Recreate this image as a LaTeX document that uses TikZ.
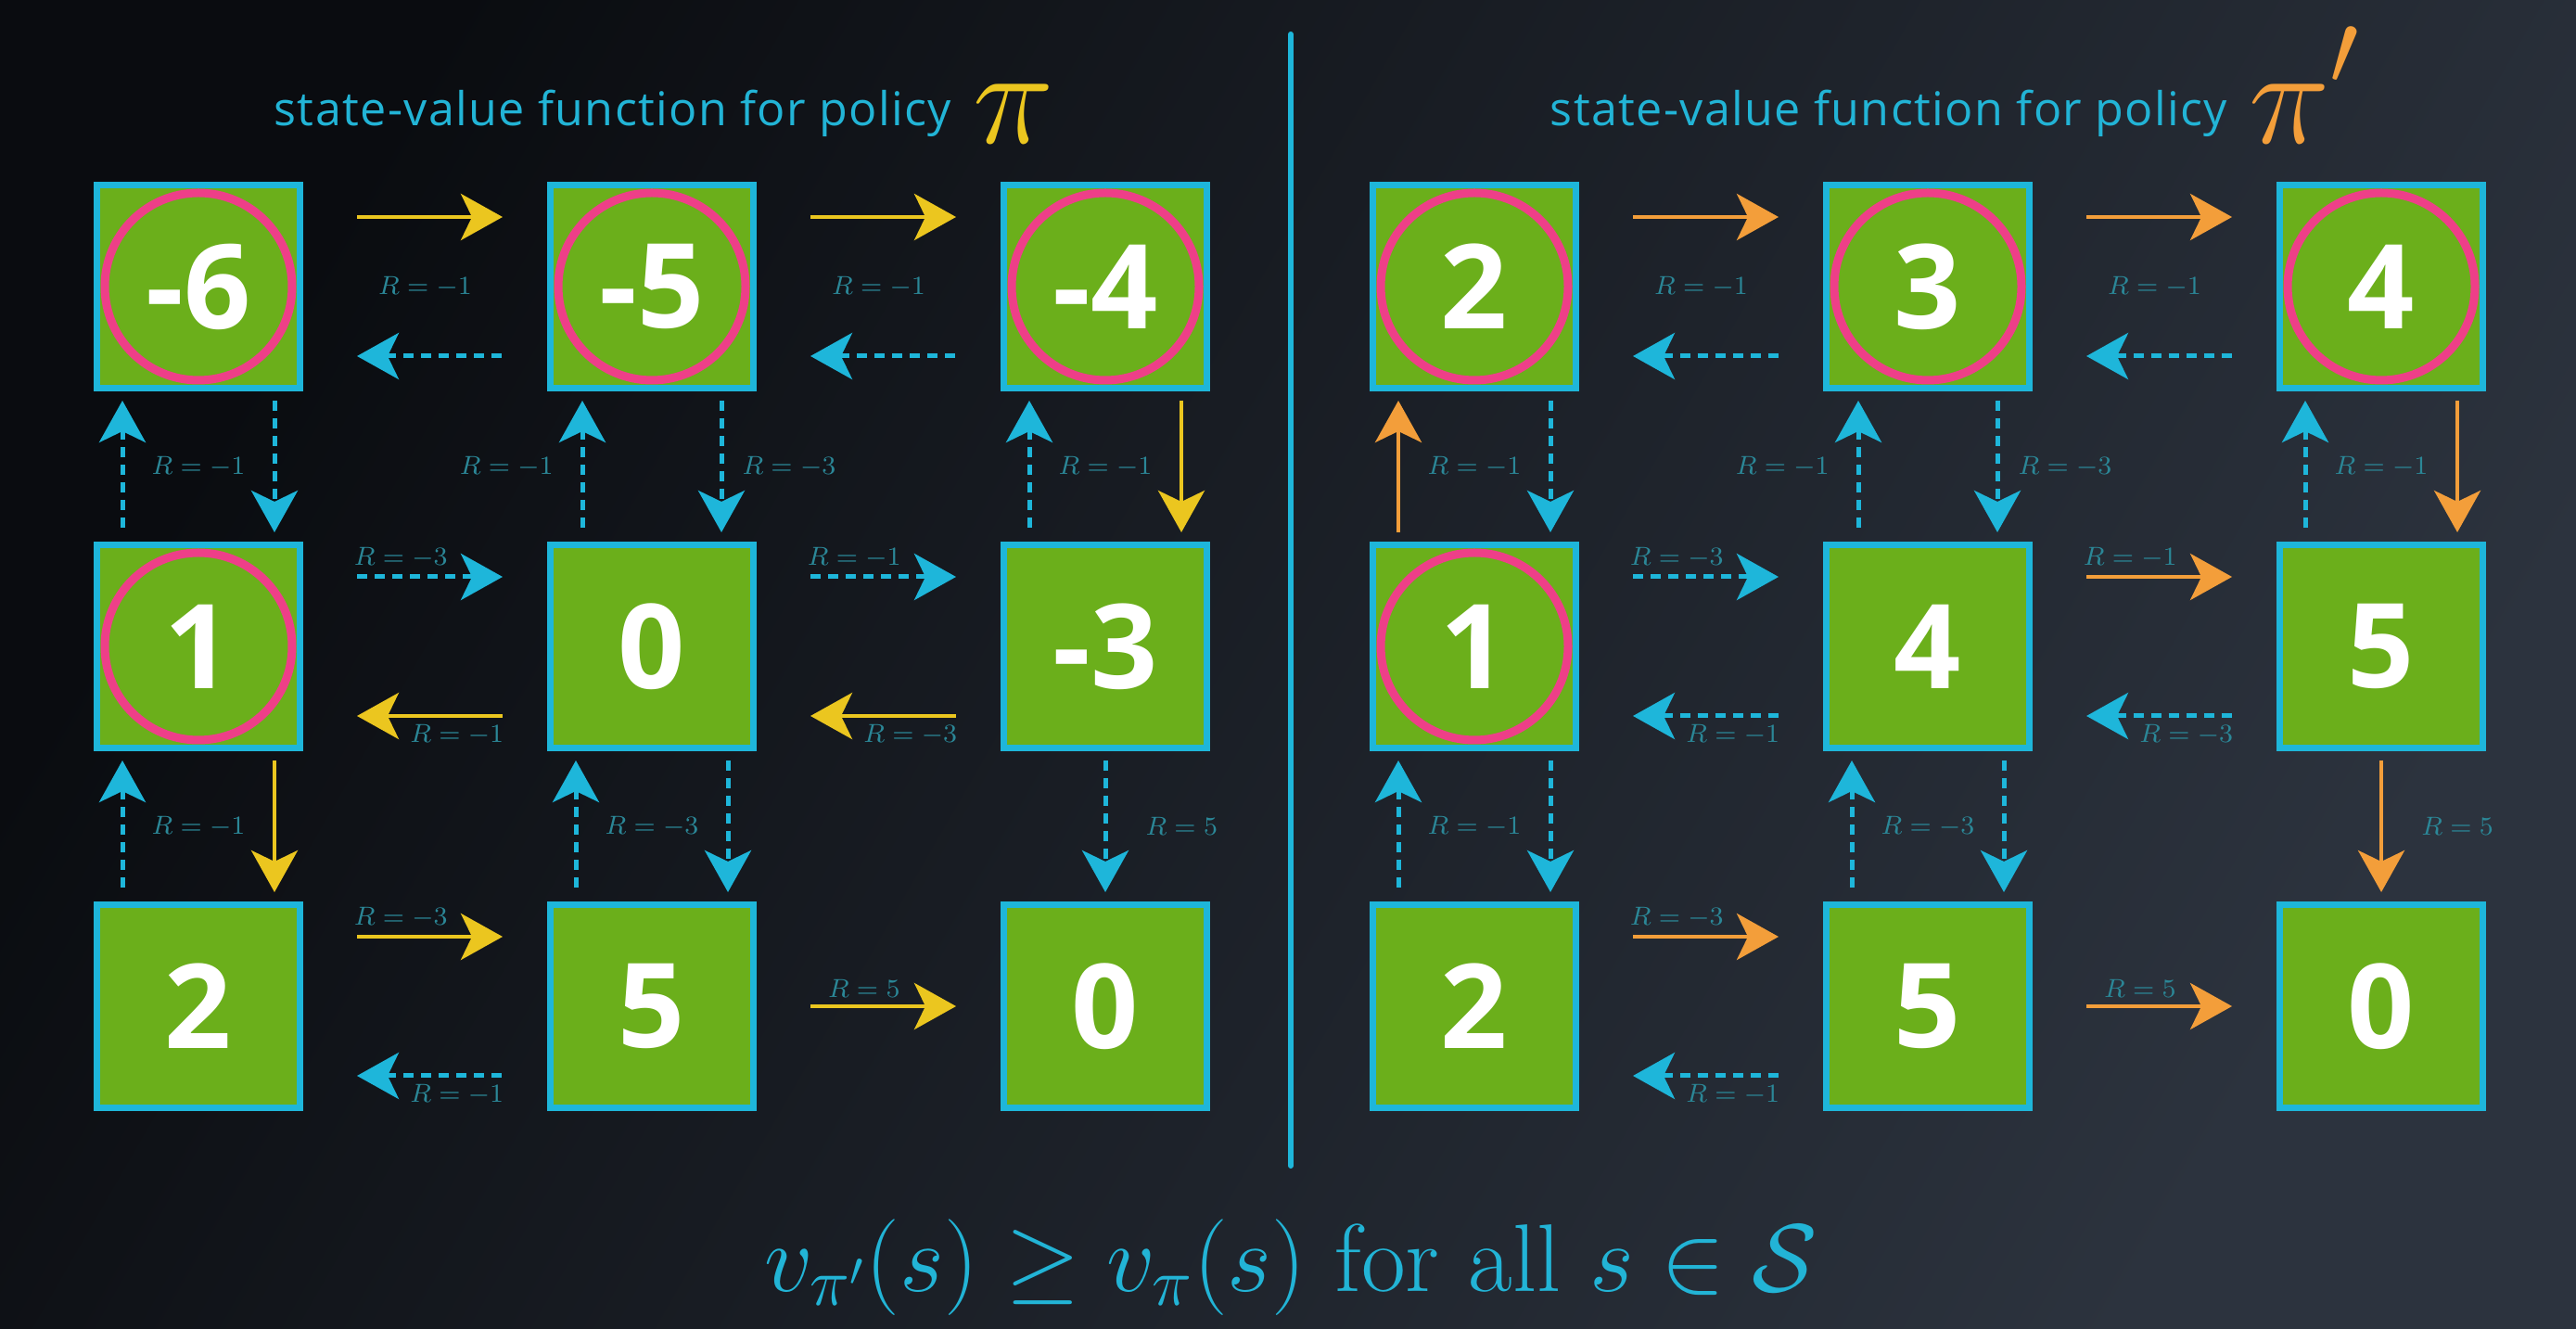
\RequirePackage{fix-cm}
\documentclass[tikz,border=0pt]{standalone}
\usepackage{amsmath,amssymb}
\usepackage{fontspec}
\usepackage{tikz}
\usetikzlibrary{arrows.meta,positioning,calc}
\newfontfamily\osans{Open Sans}
\newfontfamily\osanswide[LetterSpace=2.7]{Open Sans}
\definecolor{bgdark}{HTML}{0A0C10}
\definecolor{bglight}{HTML}{2C333E}
\definecolor{boxgreen}{HTML}{6BAF1B}
\definecolor{boxcyan}{HTML}{1EB6DA}
\definecolor{ringpink}{HTML}{EE3F88}
\definecolor{polyellow}{HTML}{EBC61F}
\definecolor{polorange}{HTML}{F39E3A}
\definecolor{labteal}{HTML}{2B8797}
\definecolor{titlecyan}{HTML}{22B4D6}
\tikzset{
  statebox/.style={
    draw=boxcyan,
    fill=boxgreen,
    line width=0.7mm,
    minimum size=21.9mm,
    inner sep=0pt,
    text=white,
    font=\osans\bfseries\fontsize{36}{36}\selectfont
  },
  visited/.style={path picture={\draw[ringpink, line width=0.9mm] (path picture bounding box.center) circle (10.1mm);}},
  oldmove/.style={draw=polyellow, line width=0.45mm},
  newmove/.style={draw=polorange, line width=0.45mm},
  othermove/.style={draw=boxcyan, line width=0.5mm, dash pattern=on 1.1mm off 0.8mm},
  hgap/.style={shorten <=5.8mm, shorten >=4.8mm},
  vgap/.style={shorten <=1mm, shorten >=1mm},
  reward/.style={text=labteal, font=\fontsize{8}{8}\selectfont, inner sep=0.7mm},
  heading/.style={text=titlecyan, font=\osanswide\fontsize{14.3}{16}\selectfont, anchor=base west, inner sep=0pt},
  divider/.style={draw=boxcyan, line width=0.6mm, line cap=round}
}

\begin{document}
\begin{tikzpicture}[node distance=16.2mm and 26.3mm, >={Stealth[length=4.5mm, width=5mm, inset=1.2mm]}]
\useasboundingbox (0,0) rectangle (277.8mm,143.2mm);
\shade[top color=bgdark, bottom color=bglight, shading angle=60] (0,0) rectangle (277.8mm,143.2mm);

\node[heading] (oldtitle) at (29.5mm,129.6mm) {state-value function for policy\hspace{2.3mm}\raisebox{-1.9mm}{\color{polyellow}\fontsize{42}{42}\selectfont$\pi$}};
\node[heading] (newtitle) at (167.1mm,129.6mm) {state-value function for policy\hspace{2.3mm}\raisebox{-1.9mm}{\color{polorange}\fontsize{42}{42}\selectfont$\pi$\raisebox{6.3mm}{\fontsize{32}{32}\selectfont$\prime$}}};
\draw[divider] (139.2mm,139.5mm) -- (139.2mm,17.5mm);

\node[statebox, visited] (old11) at (21.4mm,112.3mm) {-6};
\node[statebox, visited, right=of old11] (old12) {-5};
\node[statebox, visited, right=of old12] (old13) {-4};
\node[statebox, visited, below=of old11] (old21) {1};
\node[statebox, right=of old21] (old22) {0};
\node[statebox, right=of old22] (old23) {-3};
\node[statebox, below=of old21] (old31) {2};
\node[statebox, right=of old31] (old32) {5};
\node[statebox, right=of old32] (old33) {0};

\node[statebox, visited] (new11) at (159.0mm,112.3mm) {2};
\node[statebox, visited, right=of new11] (new12) {3};
\node[statebox, visited, right=of new12] (new13) {4};
\node[statebox, visited, below=of new11] (new21) {1};
\node[statebox, right=of new21] (new22) {4};
\node[statebox, right=of new22] (new23) {5};
\node[statebox, below=of new21] (new31) {2};
\node[statebox, right=of new31] (new32) {5};
\node[statebox, right=of new32] (new33) {0};

\draw[oldmove, ->, hgap] ([yshift=7.5mm]old11.east) -- ([yshift=7.5mm]old12.west);
\draw[othermove, <-, hgap] ([yshift=-7.5mm]old11.east) -- ([yshift=-7.5mm]old12.west);
\path (old11) -- node[reward]{$R=-1$} (old12);
\draw[oldmove, ->, hgap] ([yshift=7.5mm]old12.east) -- ([yshift=7.5mm]old13.west);
\draw[othermove, <-, hgap] ([yshift=-7.5mm]old12.east) -- ([yshift=-7.5mm]old13.west);
\path (old12) -- node[reward]{$R=-1$} (old13);
\draw[othermove, ->, hgap] ([yshift=7.5mm]old21.east) -- node[reward, above, pos=0.4]{$R=-3$} ([yshift=7.5mm]old22.west);
\draw[oldmove, <-, hgap] ([yshift=-7.5mm]old21.east) -- node[reward, below, pos=0.63]{$R=-1$} ([yshift=-7.5mm]old22.west);
\draw[othermove, ->, hgap] ([yshift=7.5mm]old22.east) -- node[reward, above, pos=0.4]{$R=-1$} ([yshift=7.5mm]old23.west);
\draw[oldmove, <-, hgap] ([yshift=-7.5mm]old22.east) -- node[reward, below, pos=0.63]{$R=-3$} ([yshift=-7.5mm]old23.west);
\draw[oldmove, ->, hgap] ([yshift=7.5mm]old31.east) -- node[reward, above, pos=0.4]{$R=-3$} ([yshift=7.5mm]old32.west);
\draw[othermove, <-, hgap] ([yshift=-7.5mm]old31.east) -- node[reward, below, pos=0.63]{$R=-1$} ([yshift=-7.5mm]old32.west);
\draw[oldmove, ->, hgap] (old32) -- node[reward, above, pos=0.44]{$R=5$} (old33);

\draw[othermove, <-, vgap] ([xshift=-8.2mm]old11.south) -- ([xshift=-8.2mm]old21.north);
\draw[othermove, ->, vgap] ([xshift=8.2mm]old11.south) -- ([xshift=8.2mm]old21.north);
\path (old11) -- node[reward]{$R=-1$} (old21);
\draw[othermove, <-, vgap] ([xshift=-7.5mm]old12.south) -- node[reward, left=2.2mm]{$R=-1$} ([xshift=-7.5mm]old22.north);
\draw[othermove, ->, vgap] ([xshift=7.5mm]old12.south) -- node[reward, right=1.3mm]{$R=-3$} ([xshift=7.5mm]old22.north);
\draw[othermove, <-, vgap] ([xshift=-8.2mm]old13.south) -- ([xshift=-8.2mm]old23.north);
\draw[oldmove, ->, vgap] ([xshift=8.2mm]old13.south) -- ([xshift=8.2mm]old23.north);
\path (old13) -- node[reward]{$R=-1$} (old23);
\draw[othermove, <-, vgap] ([xshift=-8.2mm]old21.south) -- ([xshift=-8.2mm]old31.north);
\draw[oldmove, ->, vgap] ([xshift=8.2mm]old21.south) -- ([xshift=8.2mm]old31.north);
\path (old21) -- node[reward]{$R=-1$} (old31);
\draw[othermove, <-, vgap] ([xshift=-8.2mm]old22.south) -- ([xshift=-8.2mm]old32.north);
\draw[othermove, ->, vgap] ([xshift=8.2mm]old22.south) -- ([xshift=8.2mm]old32.north);
\path (old22) -- node[reward]{$R=-3$} (old32);
\draw[othermove, ->, vgap] (old23) -- node[reward, right=3.4mm]{$R=5$} (old33);

\draw[newmove, ->, hgap] ([yshift=7.5mm]new11.east) -- ([yshift=7.5mm]new12.west);
\draw[othermove, <-, hgap] ([yshift=-7.5mm]new11.east) -- ([yshift=-7.5mm]new12.west);
\path (new11) -- node[reward]{$R=-1$} (new12);
\draw[newmove, ->, hgap] ([yshift=7.5mm]new12.east) -- ([yshift=7.5mm]new13.west);
\draw[othermove, <-, hgap] ([yshift=-7.5mm]new12.east) -- ([yshift=-7.5mm]new13.west);
\path (new12) -- node[reward]{$R=-1$} (new13);
\draw[othermove, ->, hgap] ([yshift=7.5mm]new21.east) -- node[reward, above, pos=0.4]{$R=-3$} ([yshift=7.5mm]new22.west);
\draw[othermove, <-, hgap] ([yshift=-7.5mm]new21.east) -- node[reward, below, pos=0.63]{$R=-1$} ([yshift=-7.5mm]new22.west);
\draw[newmove, ->, hgap] ([yshift=7.5mm]new22.east) -- node[reward, above, pos=0.4]{$R=-1$} ([yshift=7.5mm]new23.west);
\draw[othermove, <-, hgap] ([yshift=-7.5mm]new22.east) -- node[reward, below, pos=0.63]{$R=-3$} ([yshift=-7.5mm]new23.west);
\draw[newmove, ->, hgap] ([yshift=7.5mm]new31.east) -- node[reward, above, pos=0.4]{$R=-3$} ([yshift=7.5mm]new32.west);
\draw[othermove, <-, hgap] ([yshift=-7.5mm]new31.east) -- node[reward, below, pos=0.63]{$R=-1$} ([yshift=-7.5mm]new32.west);
\draw[newmove, ->, hgap] (new32) -- node[reward, above, pos=0.44]{$R=5$} (new33);

\draw[newmove, <-, vgap] ([xshift=-8.2mm]new11.south) -- ([xshift=-8.2mm]new21.north);
\draw[othermove, ->, vgap] ([xshift=8.2mm]new11.south) -- ([xshift=8.2mm]new21.north);
\path (new11) -- node[reward]{$R=-1$} (new21);
\draw[othermove, <-, vgap] ([xshift=-7.5mm]new12.south) -- node[reward, left=2.2mm]{$R=-1$} ([xshift=-7.5mm]new22.north);
\draw[othermove, ->, vgap] ([xshift=7.5mm]new12.south) -- node[reward, right=1.3mm]{$R=-3$} ([xshift=7.5mm]new22.north);
\draw[othermove, <-, vgap] ([xshift=-8.2mm]new13.south) -- ([xshift=-8.2mm]new23.north);
\draw[newmove, ->, vgap] ([xshift=8.2mm]new13.south) -- ([xshift=8.2mm]new23.north);
\path (new13) -- node[reward]{$R=-1$} (new23);
\draw[othermove, <-, vgap] ([xshift=-8.2mm]new21.south) -- ([xshift=-8.2mm]new31.north);
\draw[othermove, ->, vgap] ([xshift=8.2mm]new21.south) -- ([xshift=8.2mm]new31.north);
\path (new21) -- node[reward]{$R=-1$} (new31);
\draw[othermove, <-, vgap] ([xshift=-8.2mm]new22.south) -- ([xshift=-8.2mm]new32.north);
\draw[othermove, ->, vgap] ([xshift=8.2mm]new22.south) -- ([xshift=8.2mm]new32.north);
\path (new22) -- node[reward]{$R=-3$} (new32);
\draw[newmove, ->, vgap] (new23) -- node[reward, right=3.4mm]{$R=5$} (new33);

\node[text=titlecyan, font=\fontsize{29.5}{30}\selectfont, anchor=base] (claim) at (139.2mm,4.0mm) {$v_{\pi'}(s) \geq v_{\pi}(s) \text{ for all } s \in \mathcal{S}$};
\end{tikzpicture}
\end{document}
